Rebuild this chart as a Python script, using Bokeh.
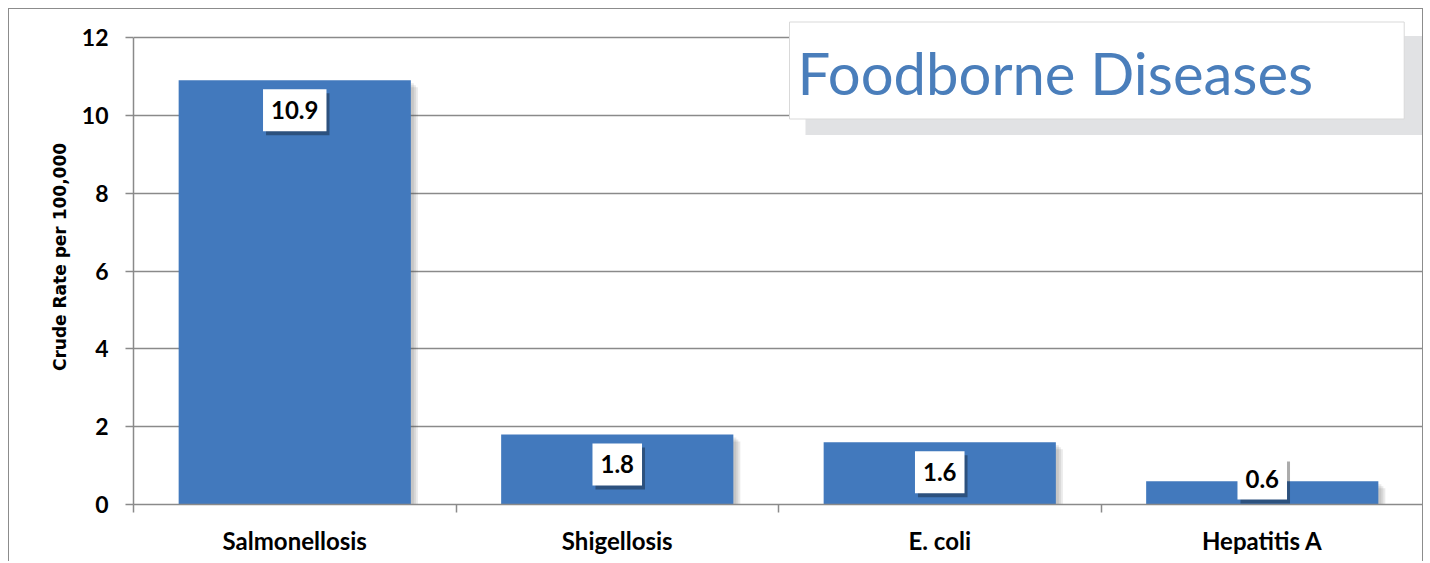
from bokeh.plotting import figure
from bokeh.models import Range1d, FixedTicker, Label
from bokeh.embed import file_html
from bokeh.resources import INLINE

# ---- data ----
categories = ["Salmonellosis", "Shigellosis", "E. coli", "Hepatitis A"]
rates = [10.9, 1.8, 1.6, 0.6]
rate_labels = ["10.9", "1.8", "1.6", "0.6"]
y_ticks = [0, 2, 4, 6, 8, 10, 12]
chart_title = "Foodborne Diseases"
y_title = "Crude Rate per 100,000"

# ---- styling ----
BAR = "#4279bd"
GRID = "#8a8a8a"
TITLE_BLUE = "#4a7ebb"
LABEL_FONT = "Lato"

n = len(categories)
centers = [i + 0.5 for i in range(n)]
ymax = max(y_ticks)

W, H = 1415, 553
ML, MR, MT, MB = 124, 1, 0, 58
TOP_PAD = 28                       # px of empty frame above the last tick
frame_w = W - ML - MR
frame_h = H - MT - MB
ppx = n / frame_w                   # data units per px (x)
ppy = ymax / (frame_h - TOP_PAD)    # data units per px (y)
y_end = ymax + TOP_PAD * ppy
FL, FB = 133, 504                   # page position of frame left / bottom

p = figure(width=W, height=H, output_backend="svg", toolbar_location=None,
           x_range=Range1d(0, n), y_range=Range1d(0, y_end),
           min_border_left=ML, min_border_right=MR,
           min_border_top=MT, min_border_bottom=MB)
p.styles = {"margin-left": "8px", "margin-top": "8px",
            "border-left": "1px solid #8c8c8c", "border-top": "1px solid #8c8c8c",
            "border-right": "1px solid #8c8c8c"}
p.outline_line_color = None
p.background_fill_color = "white"
p.border_fill_color = "white"

# grid
p.xgrid.grid_line_color = None
p.ygrid.grid_line_color = GRID
p.ygrid.grid_line_width = 1.5
p.ygrid.ticker = FixedTicker(ticks=y_ticks)

# y axis
ya = p.yaxis[0]
ya.ticker = FixedTicker(ticks=y_ticks)
ya.bounds = (0, ymax)
ya.axis_line_color = GRID
ya.axis_line_width = 1.5
ya.major_tick_line_color = GRID
ya.major_tick_line_width = 1.5
ya.major_tick_out = 8
ya.major_tick_in = 0
ya.minor_tick_line_color = None
ya.major_label_text_font = LABEL_FONT
ya.major_label_text_font_style = "bold"
ya.major_label_text_font_size = "23px"
ya.major_label_text_color = "black"
ya.major_label_standoff = 17
ya.axis_label = y_title
ya.axis_label_text_font = "DejaVu Sans"
ya.axis_label_text_font_style = "bold"
ya.axis_label_text_font_size = "17px"
ya.axis_label_text_color = "black"
ya.axis_label_standoff = 9

# x axis: labels at centres, tick marks at category boundaries
xa = p.xaxis[0]
xa.ticker = FixedTicker(ticks=centers, minor_ticks=list(range(n + 1)))
xa.major_label_overrides = {c: cat for c, cat in zip(centers, categories)}
xa.axis_line_color = GRID
xa.axis_line_width = 1.5
xa.major_tick_line_color = None
xa.minor_tick_line_color = GRID
xa.minor_tick_line_width = 1.5
xa.minor_tick_out = 8
xa.minor_tick_in = 0
xa.major_label_text_font = LABEL_FONT
xa.major_label_text_font_style = "bold"
xa.major_label_text_font_size = "24px"
xa.major_label_text_color = "black"
xa.major_label_standoff = 13

# soft bar shadows (layered) then bars
for sh in (7, 5, 3):
    p.vbar(x=[c + sh * ppx for c in centers], top=[r - sh * ppy for r in rates],
           bottom=-1, width=0.72, color="#555555", alpha=0.12, line_color=None)
p.vbar(x=centers, top=rates, width=0.72, color=BAR, line_color=None)

# data labels (white boxes with a shadow)
pad = dict(left=8, right=8, top=12, bottom=12)
for c, r, t in zip(centers, rates, rate_labels):
    ly = max(r / ppy - 30, 26) * ppy
    shadow = Label(x=c, y=ly, text=t, x_offset=3, y_offset=-4,
                   text_align="center", text_baseline="middle",
                   text_font=LABEL_FONT, text_font_style="bold", text_font_size="24px",
                   text_color="black", text_alpha=0.3,
                   background_fill_color="black", background_fill_alpha=0.33, padding=pad)
    lab = Label(x=c, y=ly, text=t,
                text_align="center", text_baseline="middle",
                text_font=LABEL_FONT, text_font_style="bold", text_font_size="24px",
                text_color="black", background_fill_color="white", padding=pad)
    p.add_layout(shadow)
    p.add_layout(lab)

# title box with shadow
tx = (789 - FL) * ppx
ty = (FB - 70) * ppy
tpad = dict(left=8, right=91, top=16, bottom=12)
spad = dict(left=8, right=95, top=16, bottom=14)
title_shadow = Label(x=tx, y=ty, text=chart_title, x_offset=16, y_offset=-15,
                     text_align="left", text_baseline="middle",
                     text_font=LABEL_FONT, text_font_size="58px", text_color="#e1e2e4",
                     background_fill_color="#e1e2e4", padding=spad)
title_lab = Label(x=tx, y=ty, text=chart_title,
                  text_align="left", text_baseline="middle",
                  text_font=LABEL_FONT, text_font_size="58px", text_color=TITLE_BLUE,
                  background_fill_color="white", border_line_color="#d9d9d9",
                  padding=tpad)
p.add_layout(title_shadow)
p.add_layout(title_lab)

open("out.html", "w").write(file_html(p, INLINE))
